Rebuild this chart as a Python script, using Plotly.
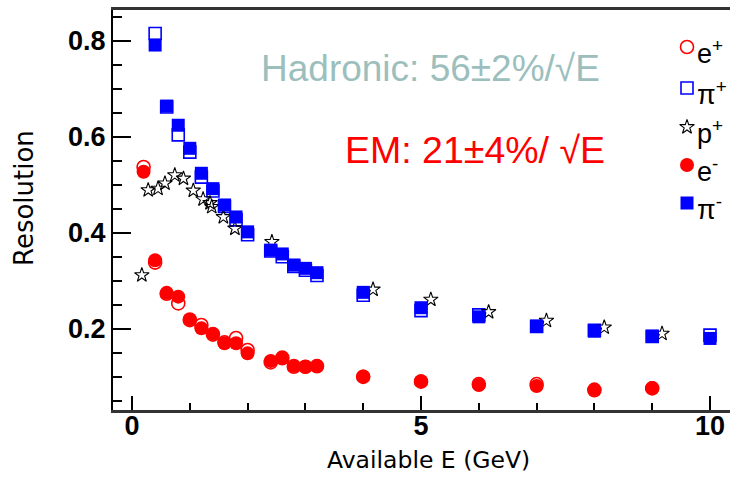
import plotly.graph_objects as go

# ---------------- data ----------------
e_x = [0.2, 0.4, 0.6, 0.8, 1.0, 1.2, 1.4, 1.6, 1.8, 2.0, 2.4, 2.6, 2.8, 3.0, 3.2,
       4, 5, 6, 7, 8, 9]
e_plus = [0.537, 0.338, 0.273, 0.253, 0.218, 0.208, 0.188, 0.172, 0.181, 0.156,
          0.130, 0.140, 0.121, 0.121, 0.122, 0.100, 0.090, 0.085, 0.085, 0.072, 0.076]
e_minus = [0.527, 0.343, 0.275, 0.267, 0.220, 0.201, 0.190, 0.170, 0.170, 0.149,
           0.133, 0.138, 0.123, 0.121, 0.123, 0.101, 0.091, 0.083, 0.081, 0.074, 0.077]

pi_x = [0.4, 0.6, 0.8, 1.0, 1.2, 1.4, 1.6, 1.8, 2.0, 2.4, 2.6, 2.8, 3.0, 3.2,
        4, 5, 6, 7, 8, 9, 10]
pi_plus = [0.815, 0.662, 0.604, 0.568, 0.516, 0.487, 0.455, 0.427, 0.396, 0.362,
           0.350, 0.330, 0.322, 0.311, 0.270, 0.238, 0.229, 0.205, 0.197, 0.184, 0.187]
pi_minus = [0.791, 0.664, 0.624, 0.576, 0.524, 0.492, 0.458, 0.433, 0.402, 0.364,
            0.356, 0.333, 0.326, 0.317, 0.276, 0.244, 0.225, 0.206, 0.195, 0.185, 0.180]

p_x = [0.17, 0.28, 0.45, 0.57, 0.74, 0.89, 1.06, 1.23, 1.35, 1.38, 1.58, 1.78, 2.42,
       4.17, 5.17, 6.17, 7.17, 8.17, 9.17]
p_plus = [0.312, 0.489, 0.492, 0.503, 0.520, 0.513, 0.488, 0.470, 0.462, 0.454, 0.433,
          0.409, 0.381, 0.282, 0.261, 0.235, 0.217, 0.203, 0.190]

x_ticks = [0, 5, 10]
y_ticks = [0.2, 0.4, 0.6, 0.8]

legend_labels = ["e<sup>+</sup>", "π<sup>+</sup>", "p<sup>+</sup>", "e<sup>-</sup>", "π<sup>-</sup>"]

# ---------------- layout geometry ----------------
W, H = 730, 481
L, R, T, B = 113, 0, 10, 71
PW, PH = W - L - R, H - T - B


def px(xp):
    return (xp - L) / PW


def py(yp):
    return (H - B - yp) / PH


RED = "#ff0000"
BLUE = "#0000ff"

styles = [
    dict(symbol="circle-open", color=RED, size=13, line=dict(color=RED, width=1.6)),
    dict(symbol="square-open", color=BLUE, size=12, line=dict(color=BLUE, width=1.6)),
    dict(symbol="star-open", color="black", size=11, line=dict(color="black", width=1.1)),
    dict(symbol="circle", color=RED, size=14, line=dict(width=0)),
    dict(symbol="square", color=BLUE, size=13, line=dict(width=0)),
]

fig = go.Figure()
series = [(e_x, e_plus), (pi_x, pi_plus), (p_x, p_plus), (e_x, e_minus), (pi_x, pi_minus)]
for (xs, ys), st in zip(series, styles):
    fig.add_trace(go.Scatter(x=xs, y=ys, mode="markers", marker=st,
                             showlegend=False, hoverinfo="x+y"))

# manual legend (markers on an invisible overlay axis in paper-like units)
leg_y_px = [47, 88, 127, 165, 203]
leg_x_px = 687
for lab, st, yp in zip(legend_labels, styles, leg_y_px):
    fig.add_trace(go.Scatter(x=[px(leg_x_px)], y=[py(yp)], mode="markers",
                             marker=st, xaxis="x2", yaxis="y2",
                             showlegend=False, hoverinfo="skip"))
    fig.add_annotation(x=px(leg_x_px + 8), y=py(yp + 5), xref="paper", yref="paper",
                       text=lab, showarrow=False, xanchor="left", yanchor="middle",
                       font=dict(family="Liberation Sans", size=27, color="black"))

# text annotations
fig.add_annotation(x=px(259), y=py(68), xref="paper", yref="paper",
                   text="Hadronic: 56±2%/√E", showarrow=False,
                   xanchor="left", yanchor="middle",
                   font=dict(family="Liberation Sans", size=37, color="#9cbfbd"))
fig.add_annotation(x=px(343), y=py(150), xref="paper", yref="paper",
                   text="EM: 21±4%/ √E", showarrow=False,
                   xanchor="left", yanchor="middle",
                   font=dict(family="Liberation Sans", size=37.5, color=RED))

# axis titles
fig.add_annotation(x=px(24), y=py(198), xref="paper", yref="paper",
                   text="Resolution", showarrow=False, textangle=-90,
                   xanchor="center", yanchor="middle",
                   font=dict(family="DejaVu Sans", size=26, color="black"))
fig.add_annotation(x=px(428), y=py(460), xref="paper", yref="paper",
                   text="Available E (GeV)", showarrow=False,
                   xanchor="center", yanchor="middle",
                   font=dict(family="DejaVu Sans", size=23.5, color="black"))

tickfont = dict(family="Liberation Sans", size=27, color="black", weight="bold")

fig.update_layout(
    width=W, height=H,
    margin=dict(l=L, r=R, t=T, b=B, pad=0),
    paper_bgcolor="white", plot_bgcolor="white",
    showlegend=False,
    xaxis=dict(range=[-0.329, 10.346], tickvals=x_ticks, ticks="inside",
               ticklen=14, tickwidth=1.5, tickcolor="black",
               minor=dict(dtick=1, tick0=0, ticks="inside", ticklen=7,
                          tickwidth=1.5, tickcolor="black", showgrid=False),
               showgrid=False, zeroline=False, showline=True, linecolor="#333333",
               linewidth=2.5, mirror=True, tickfont=tickfont,
               ticklabelstandoff=-10),
    yaxis=dict(range=[0.031, 0.864], tickvals=y_ticks, ticktext=["0.2", "0.4", "0.6", "0.8"],
               ticks="inside", ticklen=18, tickwidth=1.5, tickcolor="black",
               minor=dict(dtick=0.05, tick0=0, ticks="inside", ticklen=9,
                          tickwidth=1.5, tickcolor="black", showgrid=False),
               showgrid=False, zeroline=False, showline=True, linecolor="black",
               linewidth=2, mirror=False, tickfont=tickfont),
    xaxis2=dict(overlaying="x", range=[0, 1], visible=False, fixedrange=True),
    yaxis2=dict(overlaying="y", range=[0, 1], visible=False, fixedrange=True),
)

fig.write_html("out.html")
